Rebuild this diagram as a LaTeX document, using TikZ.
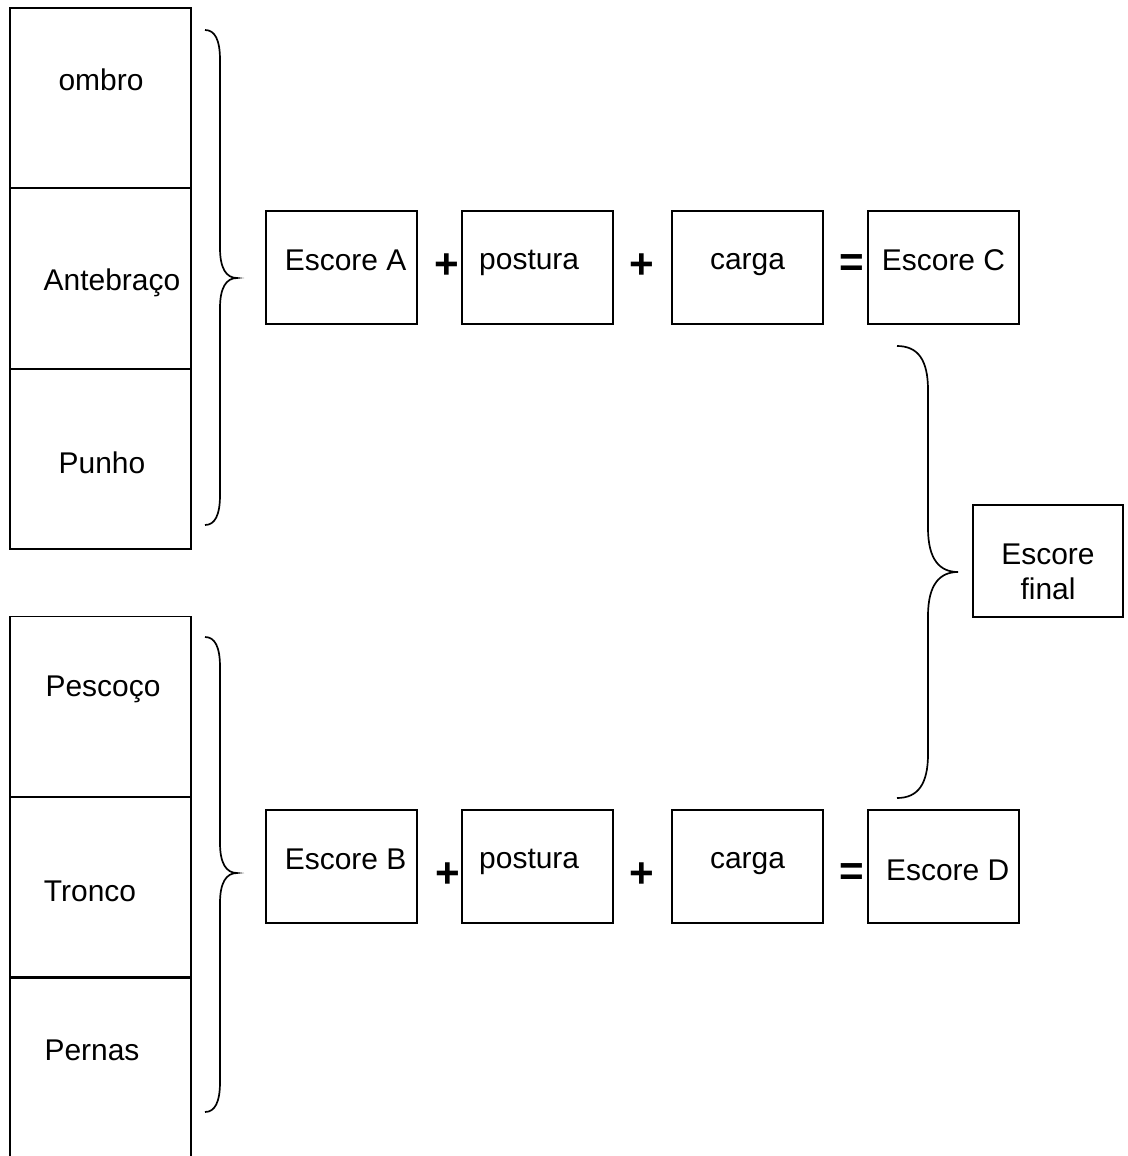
\documentclass[tikz,border=0pt]{standalone}
\usepackage{fontspec}
\setmainfont{Liberation Sans}
\usepackage{tikz}
\usetikzlibrary{positioning}
\newcommand{\liftby}[2]{\raisebox{#1}[\height][\depth]{#2}}

\begin{document}
\begin{tikzpicture}[x=0.025cm, y=-0.025cm,
    every node/.style={font=\fontsize{21.3}{24.8}\selectfont},
    cell/.style={draw, line width=1.2pt, minimum width=4.525cm, minimum height=4.5cm, inner sep=0pt},
    box/.style={draw, line width=1.2pt, minimum width=3.775cm, minimum height=2.825cm, inner sep=0pt},
    sign/.style={font=\fontsize{30}{30}\selectfont\bfseries, inner sep=0pt},
    bracket/.style={line width=1.2pt}]
    \useasboundingbox (0,0) rectangle (1128,1156);

    % upper column
    \node[cell] (c1) at (100.5,  98) {};
    \node[cell] (c2) at (100.5, 278.5) {};
    \node[cell] (c3) at (100.5, 459) {};
    \node (ombro) at (101,  80) {ombro};
    \node (antebraco) at (112, 283) {Antebraço};
    \node (punho) at (102, 463) {Punho};

    % lower column
    \node[cell] (c4) at (100.5, 706.5) {};
    \node[cell] (c5) at (100.5, 887) {};
    \node[cell] (c6) at (100.5,1068) {};
    \node (pescoco) at (103, 689) {Pescoço};
    \node (tronco) at ( 90, 891) {Tronco};
    \node (pernas) at ( 92,1050) {Pernas};

    % upper row
    \node[box] (escA) at (341.5, 267.5) {\liftby{5pt}{~Escore A}};
    \node[box] (postA) at (537.5, 267.5) {\liftby{3pt}{postura~~}};
    \node[box] (cargaA) at (747.5, 267.5) {\liftby{2pt}{carga}};
    \node[box] (escC) at (943.5, 267.5) {\liftby{5pt}{Escore C}};
    \node[sign] (p1) at (447, 266) {+};
    \node[sign] (p2) at (642, 266) {+};
    \node[sign] (eq1) at (852, 266) {=};

    % lower row
    \node[box] (escB) at (341.5, 866.5) {\liftby{5pt}{~Escore B}};
    \node[box] (postB) at (537.5, 866.5) {\liftby{3pt}{postura~~}};
    \node[box] (cargaB) at (747.5, 866.5) {\liftby{2pt}{carga}};
    \node[box] (escD) at (943.5, 866.5) {\liftby{-3pt}{~Escore D}};
    \node[sign] (p3) at (448, 875) {+};
    \node[sign] (p4) at (642, 875) {+};
    \node[sign] (eq2) at (852, 875) {=};

    \node[draw, line width=1.2pt, minimum width=3.75cm, minimum height=2.8cm, inner sep=0pt] (final) at (1048, 561)
        {\liftby{-10pt}{\begin{tabular}{@{}c@{}}Escore\\final\end{tabular}}};

    % braces
    \draw[bracket] (205,30) .. controls (215,30) and (220,40) .. (220,60) -- (220,248)
        .. controls (220,268) and (226,278) .. (237,278) .. controls (226,278) and (220,288) .. (220,308)
        -- (220,495) .. controls (220,515) and (215,525) .. (205,525);
    \draw[bracket] (205,637) .. controls (215,637) and (220,647) .. (220,667) -- (220,843)
        .. controls (220,863) and (226,873) .. (237,873) .. controls (226,873) and (220,883) .. (220,903)
        -- (220,1082) .. controls (220,1102) and (215,1112) .. (205,1112);
    \draw[bracket] (897,346) .. controls (918,346) and (928,360) .. (928,390) -- (928,528)
        .. controls (928,560) and (940,572) .. (958,572) .. controls (940,572) and (928,584) .. (928,616)
        -- (928,754) .. controls (928,784) and (918,798) .. (897,798);
\end{tikzpicture}
\end{document}
